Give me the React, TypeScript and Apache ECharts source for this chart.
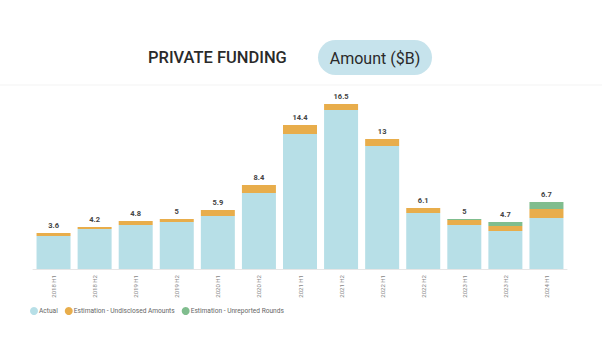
import React, { useEffect, useRef } from "react";
import * as echarts from "echarts";

const categories = [
  "2018 H1", "2018 H2", "2019 H1", "2019 H2", "2020 H1", "2020 H2", "2021 H1",
  "2021 H2", "2022 H1", "2022 H2", "2023 H1", "2023 H2", "2024 H1",
];
const actual = [3.3, 4.0, 4.4, 4.7, 5.3, 7.6, 13.5, 15.9, 12.3, 5.6, 4.4, 3.8, 5.1];
const undisclosed = [0.3, 0.2, 0.4, 0.3, 0.6, 0.8, 0.9, 0.6, 0.7, 0.5, 0.5, 0.5, 0.9];
const unreported = [0, 0, 0, 0, 0, 0, 0, 0, 0, 0, 0.1, 0.4, 0.7];
const totals = [3.6, 4.2, 4.8, 5, 5.9, 8.4, 14.4, 16.5, 13, 6.1, 5, 4.7, 6.7];

const seriesNames = ["Actual", "Estimation - Undisclosed Amounts", "Estimation - Unreported Rounds"];
const colors = ["#b7dfe7", "#e8ad4b", "#80bd8e"];

export default function App() {
  const ref = useRef<HTMLDivElement>(null);
  useEffect(() => {
    if (!ref.current) return;
    const chart = echarts.init(ref.current, undefined, { renderer: "svg" });
    const font = "Roboto, 'Noto Sans', sans-serif";
    chart.setOption({
      animation: false,
      backgroundColor: "#ffffff",
      textStyle: { fontFamily: font },
      grid: { left: 33, right: 35, top: 89, bottom: 87, containLabel: false },
      legend: {
        data: seriesNames,
        left: 30,
        top: 307,
        padding: 0,
        icon: "circle",
        itemWidth: 8,
        itemHeight: 8,
        itemGap: 7,
        textStyle: { fontSize: 6.6, color: "#666", fontFamily: font, padding: [0, 0, 0, -4] },
      },
      xAxis: {
        type: "category",
        data: categories,
        axisLine: { show: true, lineStyle: { color: "#e6e6e6" } },
        axisTick: { show: false },
        axisLabel: { rotate: 90, fontSize: 6, color: "#888", margin: 6, fontFamily: font },
      },
      yAxis: {
        type: "value",
        min: 0,
        max: 18,
        show: false,
        splitLine: { show: false },
      },
      series: [
        {
          name: seriesNames[0],
          type: "bar",
          stack: "s",
          data: actual,
          barWidth: 34,
          itemStyle: { color: colors[0] },
        },
        {
          name: seriesNames[1],
          type: "bar",
          stack: "s",
          data: undisclosed,
          barWidth: 34,
          itemStyle: { color: colors[1] },
        },
        {
          name: seriesNames[2],
          type: "bar",
          stack: "s",
          data: unreported,
          barWidth: 34,
          itemStyle: { color: colors[2] },
        },
        {
          name: "Total",
          type: "bar",
          stack: "s",
          data: totals.map(() => 0),
          barWidth: 34,
          itemStyle: { color: "transparent" },
          label: {
            show: true,
            position: "top",
            distance: 4,
            fontSize: 7.5,
            fontWeight: "bold",
            color: "#444",
            fontFamily: font,
            formatter: (p: any) => String(totals[p.dataIndex]),
          },
        },
      ],
      graphic: [
        {
          type: "line",
          shape: { x1: 0, y1: 85, x2: 602, y2: 85 },
          style: { stroke: "#f3f3f3", lineWidth: 1 },
        },
        {
          type: "text",
          x: 148,
          y: 57,
          scaleX: 0.97,
          style: {
            text: "PRIVATE FUNDING",
            fontSize: 17,
            fontWeight: 500,
            fill: "#2a2a2a",
            fontFamily: font,
            textVerticalAlign: "middle",
            verticalAlign: "middle",
          },
        },
        {
          type: "rect",
          shape: { x: 318, y: 40, width: 114, height: 35, r: 17.5 },
          style: { fill: "#c6e3ec" },
        },
        {
          type: "text",
          x: 375,
          y: 58,
          style: {
            text: "Amount ($B)",
            fontSize: 16,
            fill: "#2a2a2a",
            fontFamily: font,
            align: "center",
            textAlign: "center",
            verticalAlign: "middle",
            textVerticalAlign: "middle",
          },
        },
      ],
    });
    return () => chart.dispose();
  }, []);
  return (
    <div
      ref={ref}
      style={{ position: "absolute", left: 0, top: 0, width: 602, height: 356 }}
    />
  );
}
